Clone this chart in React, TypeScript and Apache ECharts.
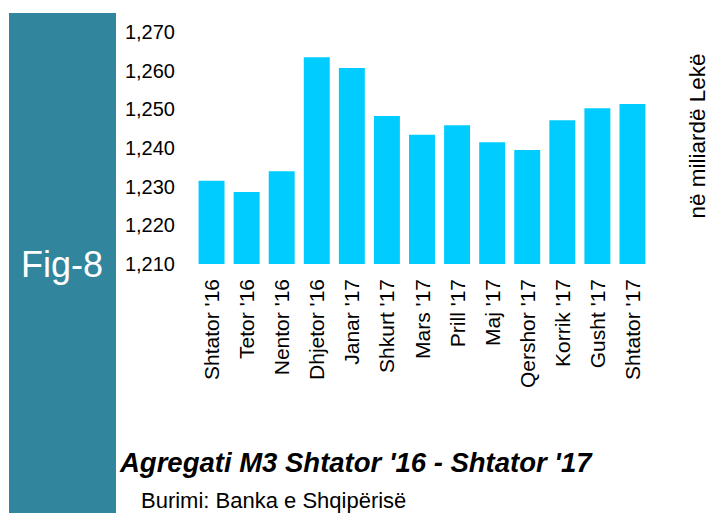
import React, { useEffect, useRef } from "react";
import * as echarts from "echarts";

const categories = [
  "Shtator '16", "Tetor '16", "Nentor '16", "Dhjetor '16", "Janar '17", "Shkurt '17",
  "Mars '17", "Prill '17", "Maj '17", "Qershor '17", "Korrik '17", "Gusht '17", "Shtator '17",
];
const values = [1231.5, 1228.6, 1234.0, 1263.5, 1260.7, 1248.3, 1243.4, 1245.9, 1241.5, 1239.5, 1247.2, 1250.3, 1251.4];
const yMin = 1210;
const yMax = 1270;
const yStep = 10;
const titleText = "Agregati M3 Shtator '16 - Shtator '17";
const sourceText = "Burimi: Banka e Shqipërisë";
const unitText = "në miliardë Lekë";
const figText = "Fig-8";

const FONT = "'Liberation Sans', Arial, sans-serif";

export default function App() {
  const ref = useRef<HTMLDivElement>(null);
  useEffect(() => {
    if (!ref.current) return;
    const chart = echarts.init(ref.current, undefined, { renderer: "svg" });
    chart.setOption({
      animation: false,
      backgroundColor: "#ffffff",
      grid: { left: 194, right: 58, top: 32, bottom: 249, containLabel: false },
      xAxis: {
        type: "category",
        data: categories,
        axisLine: { show: false },
        axisTick: { show: false },
        axisLabel: {
          rotate: 90,
          interval: 0,
          margin: 15,
          fontSize: 21,
          color: "#000",
          fontFamily: FONT,
        },
      },
      yAxis: {
        type: "value",
        min: yMin,
        max: yMax,
        interval: yStep,
        axisLine: { show: false },
        axisTick: { show: false },
        splitLine: { show: false },
        axisLabel: {
          margin: 19,
          fontSize: 20,
          color: "#000",
          fontFamily: FONT,
          formatter: (v: number) => v.toLocaleString("en-US"),
        },
      },
      series: [
        {
          type: "bar",
          data: values,
          barCategoryGap: "26%",
          itemStyle: { color: "#00CCFF" },
        },
      ],
      graphic: [
        {
          type: "rect",
          shape: { x: 9, y: 13, width: 107, height: 500 },
          style: { fill: "#31859C" },
          z: -1,
        },
        {
          type: "text",
          x: 62,
          y: 264,
          style: {
            text: figText,
            fill: "#ffffff",
            font: `36px ${FONT}`,
            textAlign: "center",
            textVerticalAlign: "middle",
          },
        },
        {
          type: "text",
          x: 120,
          y: 462,
          style: {
            text: titleText,
            fill: "#000",
            font: `italic bold 27.5px ${FONT}`,
            textAlign: "left",
            textVerticalAlign: "middle",
          },
        },
        {
          type: "text",
          x: 141,
          y: 500,
          style: {
            text: sourceText,
            fill: "#000",
            font: `22px ${FONT}`,
            textAlign: "left",
            textVerticalAlign: "middle",
          },
        },
        {
          type: "text",
          x: 697,
          y: 136,
          rotation: Math.PI / 2,
          style: {
            text: unitText,
            fill: "#000",
            font: `22.5px ${FONT}`,
            textAlign: "center",
            textVerticalAlign: "middle",
          },
        },
      ],
    });
    return () => chart.dispose();
  }, []);
  return (
    <div
      ref={ref}
      style={{ position: "absolute", left: 0, top: 0, width: 708, height: 513 }}
    />
  );
}
